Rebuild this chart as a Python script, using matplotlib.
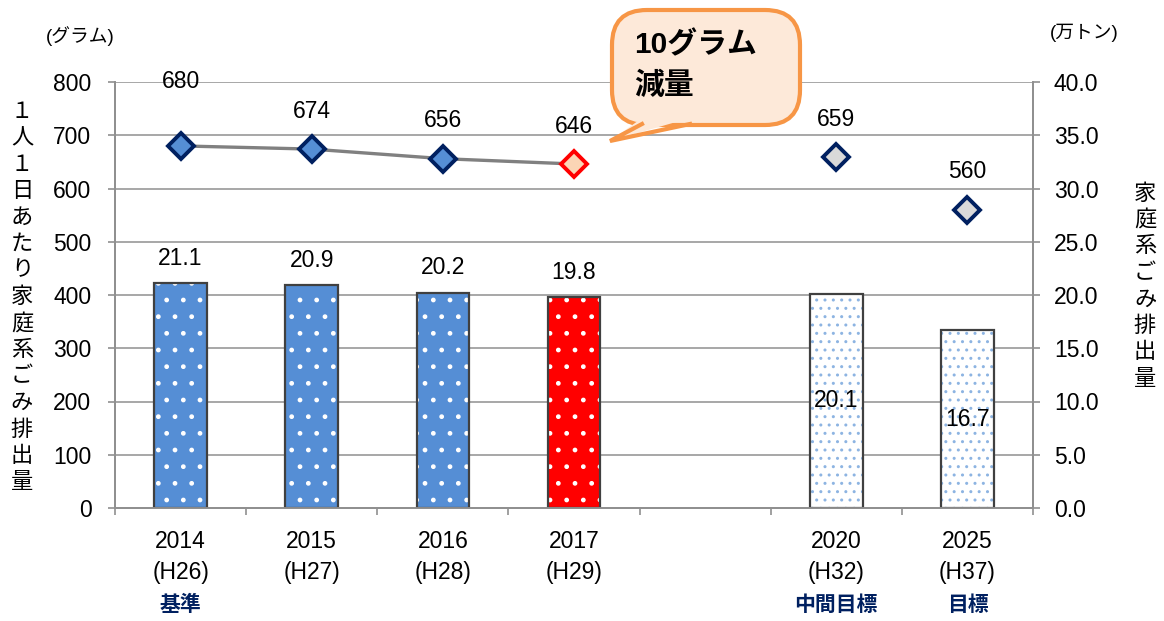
"""
Household waste per person per day (grams) and total household waste (10k tons)
"""

import matplotlib
matplotlib.use("Agg")
import matplotlib.pyplot as plt
from matplotlib.patches import FancyBboxPatch, Polygon
from matplotlib.lines import Line2D
from matplotlib.transforms import blended_transform_factory
import numpy as np

plt.rcParams["font.family"] = ["Liberation Sans", "Noto Sans CJK JP", "DejaVu Sans"]
plt.rcParams["hatch.linewidth"] = 1.0

# data
years      = ["2014", "2015", "2016", "2017", "", "2020", "2025"]
eras       = ["(H26)", "(H27)", "(H28)", "(H29)", "", "(H32)", "(H37)"]
notes      = ["基準", "", "", "", "", "中間目標", "目標"]
slot       = [0, 1, 2, 3, 5, 6]          # category slots that hold data
total_wt   = [21.1, 20.9, 20.2, 19.8, 20.1, 16.7]   # 万トン (right axis)
per_person = [680, 674, 656, 646, 659, 560]         # グラム (left axis)

# styles
BLUE   = "#558ED5"
RED    = "#FF0000"
NAVY   = "#002060"
GRID   = "#A0A0A0"
FS     = 16.5
bar_face  = [BLUE, BLUE, BLUE, RED, "white", "white"]
dot_color = ["white", "white", "white", "white", "#8DB4E2", "#8DB4E2"]
dot_hatch = [".", ".", ".", ".", "..", ".."]
mk_face   = [BLUE, BLUE, BLUE, "#FBD5B5", "#D9D9D9", "#D9D9D9"]
mk_edge   = [NAVY, NAVY, NAVY, RED, NAVY, NAVY]
lbl_off   = [64, 38, 38, 38, 38, 38]     # value label offsets above marker (px)

W, H = 1164, 621
fig = plt.figure(figsize=(W / 100, H / 100), dpi=100)
ax = fig.add_axes([115 / W, 1 - 508 / H, (1033 - 115) / W, (508 - 82) / H])
ax2 = ax.twinx()

def px(x, y):
    return x / W, 1 - y / H

# ---- bars (right scale) ----
x = np.array(slot)
ax.set_axisbelow(True)
ax.bar(x, total_wt, width=0.4, color=bar_face, edgecolor="none", zorder=2)
for xi, h, dc, hp in zip(x, total_wt, dot_color, dot_hatch):
    ax.bar(xi, h, width=0.4, color="none", edgecolor=dc, hatch=hp,
           linewidth=0, zorder=3)
ax.bar(x, total_wt, width=0.4, color="none", edgecolor="#404040",
       linewidth=1.6, zorder=4)
for i, (xi, h) in enumerate(zip(x, total_wt)):
    if i < 4:
        ax.annotate(f"{h:.1f}", (xi, h), textcoords="offset points",
                    xytext=(0, 18), ha="center", va="center", fontsize=FS)
    else:
        ax.text(xi, h / 2, f"{h:.1f}", ha="center", va="center",
                fontsize=FS, zorder=5)

ax.set_xlim(-0.5, 6.5)
ax.set_ylim(0, 40)
ax.set_yticks(np.arange(0, 40.1, 5))
ax.set_yticklabels([f"{v:.1f}" for v in np.arange(0, 40.1, 5)])
ax.yaxis.tick_right()
ax.grid(axis="y", color=GRID, linewidth=1.3)
ax.tick_params(axis="y", length=5, width=1.2, color="#909090",
               labelsize=FS, pad=10)

# ---- line (left scale) ----
ax2.yaxis.tick_left()
ax2.plot(x[:4], per_person[:4], color="#808080", linewidth=2.4, zorder=2)
for xi, v, fc, ec, off in zip(x, per_person, mk_face, mk_edge, lbl_off):
    ax2.plot(xi, v, marker="D", markersize=13.5, markerfacecolor=fc,
             markeredgecolor=ec, markeredgewidth=2.8, zorder=3)
    ax2.annotate(f"{v}", (xi, v), textcoords="offset points",
                 xytext=(0, off / 1.389), ha="center", va="center",
                 fontsize=FS)
ax2.set_ylim(0, 800)
ax2.set_yticks(np.arange(0, 801, 100))
ax2.tick_params(axis="y", length=5, width=1.2, color="#909090",
                labelsize=FS, pad=12)

# x axis: boundary ticks, labels as text
ax.set_xticks(np.arange(-0.5, 6.6, 1))
ax.set_xticklabels([])
ax.tick_params(axis="x", length=5, width=1.2, color="#909090")
trans = blended_transform_factory(ax.transData, fig.transFigure)
for i, (yr, er, nt) in enumerate(zip(years, eras, notes)):
    ax.text(i, px(0, 541)[1], yr, transform=trans, ha="center", va="center",
            fontsize=FS)
    ax.text(i, px(0, 572)[1], er, transform=trans, ha="center", va="center",
            fontsize=FS)
    ax.text(i, px(0, 605)[1], nt, transform=trans, ha="center", va="center",
            fontsize=15, fontweight="bold", color=NAVY)

for a in (ax, ax2):
    a.spines["top"].set_visible(False)
    for s in ("left", "right", "bottom"):
        a.spines[s].set_color("#909090")
        a.spines[s].set_linewidth(1.3)

# axis titles
fig.text(*px(80, 36), "(グラム)", ha="center", va="center", fontsize=13.5)
fig.text(*px(1084, 33), "(万トン)", ha="center", va="center", fontsize=13.5)
for k, ch in enumerate("１人１日あたり家庭系ごみ排出量"):
    fig.text(*px(22, 112 + 26.5 * k), ch, ha="center", va="center",
             fontsize=16)
for k, ch in enumerate("家庭系ごみ排出量"):
    fig.text(*px(1145, 194 + 26.5 * k), ch, ha="center", va="center",
             fontsize=16)

# callout
FACE, EDGE = "#FDE9D9", "#F79646"
x0, y0 = px(612, 125)
x1, y1 = px(800, 10)
box = FancyBboxPatch((x0, y0), x1 - x0, y1 - y0, transform=fig.transFigure,
                     boxstyle="round,pad=0,rounding_size=0.03",
                     facecolor=FACE, edgecolor=EDGE, linewidth=3,
                     mutation_aspect=W / H, zorder=10)
fig.add_artist(box)
tail = [px(642, 118), px(610, 141), px(690, 118)]
fig.add_artist(Polygon(tail, closed=True, transform=fig.transFigure,
                       facecolor=FACE, edgecolor="none", zorder=11))
fig.add_artist(Line2D([tail[0][0], tail[1][0], tail[2][0]],
                      [px(0, 124)[1], tail[1][1], px(0, 124)[1]],
                      transform=fig.transFigure, color=EDGE, linewidth=3,
                      solid_joinstyle="miter", zorder=12))
fig.text(*px(634, 45), "10グラム", ha="left", va="center", fontsize=21.5,
         fontweight="bold", zorder=13)
fig.text(*px(634, 86), "減量", ha="left", va="center", fontsize=21.5,
         fontweight="bold", zorder=13)

fig.savefig("out.png", dpi=100)
